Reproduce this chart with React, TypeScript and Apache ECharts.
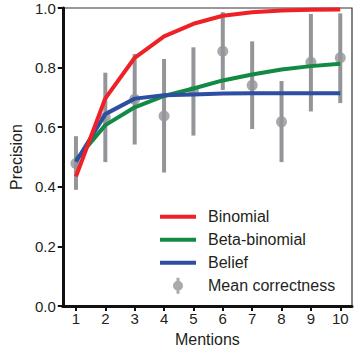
import React, { useEffect, useRef } from "react";
import * as echarts from "echarts";

const mentions = [1, 2, 3, 4, 5, 6, 7, 8, 9, 10];
const meanCorrectness = [0.478, 0.633, 0.694, 0.638, 0.721, 0.855, 0.741, 0.618, 0.818, 0.833];
const errLow = [0.39, 0.483, 0.542, 0.448, 0.572, 0.725, 0.594, 0.483, 0.653, 0.681];
const errHigh = [0.57, 0.783, 0.846, 0.829, 0.868, 0.986, 0.888, 0.755, 0.98, 0.982];
const binomial = [0.435, 0.697, 0.833, 0.905, 0.947, 0.974, 0.986, 0.992, 0.994, 0.995];
const betaBinomial = [0.49, 0.607, 0.667, 0.705, 0.73, 0.757, 0.777, 0.794, 0.805, 0.813];
const belief = [0.484, 0.644, 0.696, 0.707, 0.71, 0.713, 0.714, 0.714, 0.714, 0.714];
const yTicks = [0, 0.2, 0.4, 0.6, 0.8, 1.0];

const RED = "#ee2226";
const GREEN = "#128a43";
const BLUE = "#2e4ea2";
const GRAY = "#939598";
const TEXT = "#231f20";
const FONT = "Liberation Sans";

const pairs = (ys: number[]) => mentions.map((m, i) => [m, ys[i]]);

export default function App() {
  const ref = useRef<HTMLDivElement>(null);
  useEffect(() => {
    if (!ref.current) return;
    const chart = echarts.init(ref.current, undefined, { renderer: "svg" });
    const linePath = "path://M0,0h36v4h-36z";
    const markerPath = "path://M3.5,0h3v16h-3z M0,8a5,5 0 1,1 10,0a5,5 0 1,1 -10,0z";
    chart.setOption({
      animation: false,
      textStyle: { fontFamily: FONT, color: TEXT },
      grid: {
        left: 60,
        right: 3,
        top: 8,
        bottom: 43.5,
        containLabel: false,
        show: true,
        borderColor: "#333",
        borderWidth: 1.2,
      },
      legend: {
        orient: "vertical",
        left: 160,
        top: 208.7,
        padding: 0,
        itemWidth: 36,
        itemHeight: 16,
        itemGap: 7,
        textStyle: { fontFamily: FONT, fontSize: 16, color: TEXT, padding: [0, 0, 0, 7] },
        data: [
          { name: "Binomial", icon: linePath },
          { name: "Beta-binomial", icon: linePath },
          { name: "Belief", icon: linePath },
          { name: "Mean correctness", icon: markerPath, itemStyle: { color: GRAY, borderWidth: 0 } },
        ],
      },
      xAxis: {
        type: "value",
        min: 0.55,
        max: 10.4,
        name: "Mentions",
        nameLocation: "middle",
        nameGap: 22,
        nameTextStyle: { fontFamily: FONT, fontSize: 16, color: TEXT },
        axisLine: { show: true, onZero: false, lineStyle: { color: "#111", width: 3 } },
        axisTick: { show: true, length: 5, customValues: mentions, lineStyle: { color: "#111", width: 2 } },
        axisLabel: {
          customValues: mentions,
          margin: 5,
          fontSize: 15,
          fontFamily: FONT,
          color: TEXT,
          formatter: (v: number) => String(v),
        },
        splitLine: { show: false },
      },
      yAxis: {
        type: "value",
        min: 0,
        max: 1,
        interval: 0.2,
        name: "Precision",
        nameLocation: "middle",
        nameGap: 35,
        nameTextStyle: { fontFamily: FONT, fontSize: 16, color: TEXT },
        axisLine: { show: true, lineStyle: { color: "#111", width: 3 } },
        axisTick: { show: true, length: 5, lineStyle: { color: "#111", width: 2 } },
        axisLabel: {
          margin: 7,
          fontSize: 15,
          fontFamily: FONT,
          color: TEXT,
          customValues: yTicks,
          formatter: (v: number) => v.toFixed(1),
        },
        splitLine: { show: false },
      },
      series: [
        {
          type: "custom",
          name: "errorbars",
          z: 1,
          data: mentions.map((m, i) => [m, errLow[i], errHigh[i]]),
          encode: { x: 0, y: [1, 2] },
          renderItem: (params: any, api: any) => {
            const x = api.value(0);
            const lo = api.coord([x, api.value(1)]);
            const hi = api.coord([x, api.value(2)]);
            return {
              type: "rect",
              shape: { x: lo[0] - 2, y: hi[1], width: 4, height: lo[1] - hi[1] },
              style: { fill: GRAY },
            };
          },
        },
        {
          type: "scatter",
          name: "Mean correctness",
          z: 2,
          symbol: "circle",
          symbolSize: 11,
          itemStyle: { color: GRAY, borderWidth: 0 },
          data: pairs(meanCorrectness),
        },
        {
          type: "line",
          name: "Beta-binomial",
          z: 3,
          color: GREEN,
          symbol: "none",
          lineStyle: { color: GREEN, width: 4 },
          itemStyle: { color: GREEN, borderWidth: 0 },
          data: pairs(betaBinomial),
        },
        {
          type: "line",
          name: "Belief",
          z: 4,
          color: BLUE,
          symbol: "none",
          lineStyle: { color: BLUE, width: 4 },
          itemStyle: { color: BLUE, borderWidth: 0 },
          data: pairs(belief),
        },
        {
          type: "line",
          name: "Binomial",
          z: 5,
          color: RED,
          symbol: "none",
          lineStyle: { color: RED, width: 4 },
          itemStyle: { color: RED, borderWidth: 0 },
          data: pairs(binomial),
        },
      ],
    });
    return () => chart.dispose();
  }, []);
  return (
    <div
      ref={ref}
      style={{ position: "absolute", left: 0, top: 0, width: 355, height: 352 }}
    />
  );
}
